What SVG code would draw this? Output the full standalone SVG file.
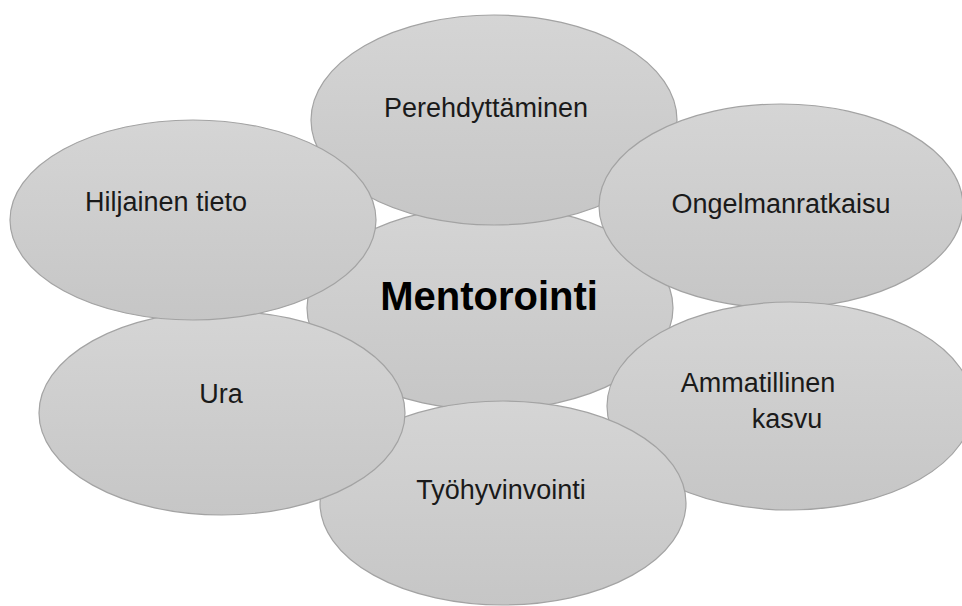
<svg xmlns="http://www.w3.org/2000/svg" width="962" height="606" viewBox="0 0 962 606">
<defs>
<linearGradient id="g" x1="0" y1="0" x2="0" y2="1">
<stop offset="0" stop-color="#d5d5d5"/>
<stop offset="1" stop-color="#c6c6c6"/>
</linearGradient>
<style>
.e{fill:url(#g);stroke:#a3a3a3;stroke-width:1.2}
.t{font-family:"Liberation Sans",Arial,sans-serif;font-size:27px;fill:#1a1a1a;text-anchor:middle}
.b{font-family:"Liberation Sans",Arial,sans-serif;font-size:40px;font-weight:bold;fill:#000;text-anchor:middle}
</style>
</defs>
<rect width="962" height="606" fill="#fff"/>
<g id="connectors"></g>
<g id="mentorointi"><ellipse class="e" cx="490" cy="308" rx="183" ry="102"/><text class="b" x="489" y="310">Mentorointi</text></g>
<g id="perehdyttaminen"><ellipse class="e" cx="494" cy="120" rx="183" ry="105"/><text class="t" x="486" y="117">Perehdyttäminen</text></g>
<g id="ongelmanratkaisu"><ellipse class="e" cx="781" cy="206" rx="182" ry="102"/><text class="t" x="781" y="213">Ongelmanratkaisu</text></g>
<g id="ammatillinen"><ellipse class="e" cx="790" cy="406" rx="183" ry="104"/><text class="t" x="758" y="392">Ammatillinen</text><text class="t" x="787" y="428">kasvu</text></g>
<g id="tyohyvinvointi"><ellipse class="e" cx="503" cy="503" rx="183" ry="102"/><text class="t" x="501" y="499">Työhyvinvointi</text></g>
<g id="ura"><ellipse class="e" cx="222" cy="413" rx="183" ry="102"/><text class="t" x="221" y="403">Ura</text></g>
<g id="hiljainen"><ellipse class="e" cx="193" cy="220" rx="183" ry="100"/><text class="t" x="166" y="211">Hiljainen tieto</text></g>
</svg>
